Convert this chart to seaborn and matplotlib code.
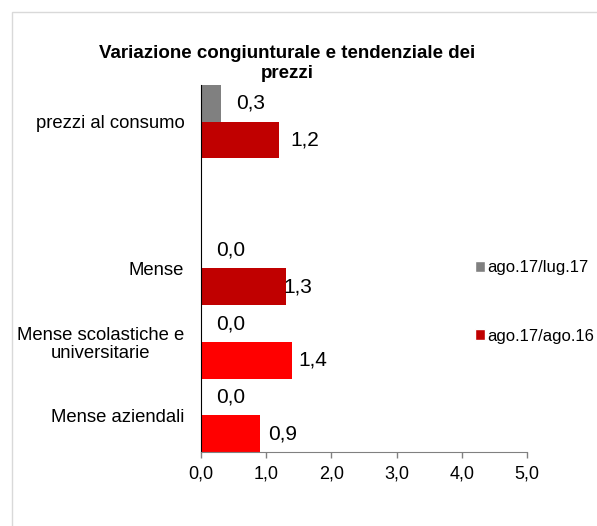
import pandas as pd
import matplotlib.pyplot as plt
import seaborn as sns
from matplotlib.patches import Rectangle, Patch
from matplotlib.ticker import FuncFormatter

# Data
categories = ['prezzi al consumo', 'Mense', 'Mense scolastiche e\nuniversitarie', 'Mense aziendali']
order = ['prezzi al consumo', ' ', 'Mense', 'Mense scolastiche e\nuniversitarie', 'Mense aziendali']
series = ['ago.17/lug.17', 'ago.17/ago.16']
congiunturale = [0.3, 0.0, 0.0, 0.0]
tendenziale = [1.2, 1.3, 1.4, 0.9]

df = pd.DataFrame({
    'categoria': categories * 2,
    'serie': [series[0]] * 4 + [series[1]] * 4,
    'valore': congiunturale + tendenziale,
})

sns.set_style('white')
plt.rcParams['font.family'] = ['Liberation Sans', 'DejaVu Sans']
plt.rcParams['text.color'] = 'black'
plt.rcParams['xtick.labelcolor'] = 'black'
plt.rcParams['ytick.labelcolor'] = 'black'

fig = plt.figure(figsize=(5.97, 5.26), dpi=100)
ax = fig.add_axes([0.3367, 0.1407, 0.546, 0.6977])

sns.barplot(data=df, x='valore', y='categoria', hue='serie', order=order,
            hue_order=series, palette=['#808080', '#C00000'], orient='h',
            width=1.0, gap=0, saturation=1, errorbar=None, ax=ax, legend=False)

# bright red for the last two red bars
red_cols = ['#C00000', '#C00000', '#FF0000', '#FF0000']
for bar, col in zip(ax.containers[1], red_cols):
    bar.set_facecolor(col)
    bar.set_edgecolor('none')
for bar in ax.containers[0]:
    bar.set_edgecolor('none')

# data labels (Excel places them a bit irregularly)
def lab(v):
    return f'{v:.1f}'.replace('.', ',')

for cont, pads in zip(ax.containers, [[11, 11, 11, 11], [8, -2, 4.5, 6]]):
    for bar, pad in zip(cont, pads):
        w = bar.get_width()
        yc = bar.get_y() + bar.get_height() / 2
        ax.annotate(lab(w), (w, yc), xytext=(pad, 0), textcoords='offset points',
                    ha='left', va='center', fontsize=15)

ax.set_xlim(0, 5)
ax.set_xticks(range(6))
ax.xaxis.set_major_formatter(FuncFormatter(lambda v, p: lab(v)))
ax.set_xlabel('')
ax.set_ylabel('')
ax.tick_params(axis='x', length=4, width=1, color='#808080', pad=6, labelsize=13, bottom=True)
ax.tick_params(axis='y', length=0, pad=12, labelsize=13.3)
for t in ax.get_yticklabels():
    t.set_multialignment('center')
    t.set_linespacing(1.1)

for s in ['top', 'right']:
    ax.spines[s].set_visible(False)
ax.spines['left'].set_color('black')
ax.spines['bottom'].set_color('#808080')

# Legend
handles = [Patch(facecolor='#808080'), Patch(facecolor='#C00000')]
fig.legend(handles, series, loc='center left', bbox_to_anchor=(0.7956, 0.426),
           bbox_transform=fig.transFigure, frameon=False, fontsize=12,
           handlelength=0.6, handleheight=0.6, handletextpad=0.15,
           labelspacing=3.2, borderpad=0, borderaxespad=0)

fig.text(0.481, 0.879, 'Variazione congiunturale e tendenziale dei\nprezzi',
         ha='center', va='center', fontsize=13.5, fontweight='bold', linespacing=1.25)

# outer chart frame
fig.patches.append(Rectangle((12 / 597, -0.1), 1.2, 1.1 - 12 / 526, transform=fig.transFigure,
                             fill=False, edgecolor='#D9D9D9', linewidth=1))

plt.savefig('out.png', dpi=100)
